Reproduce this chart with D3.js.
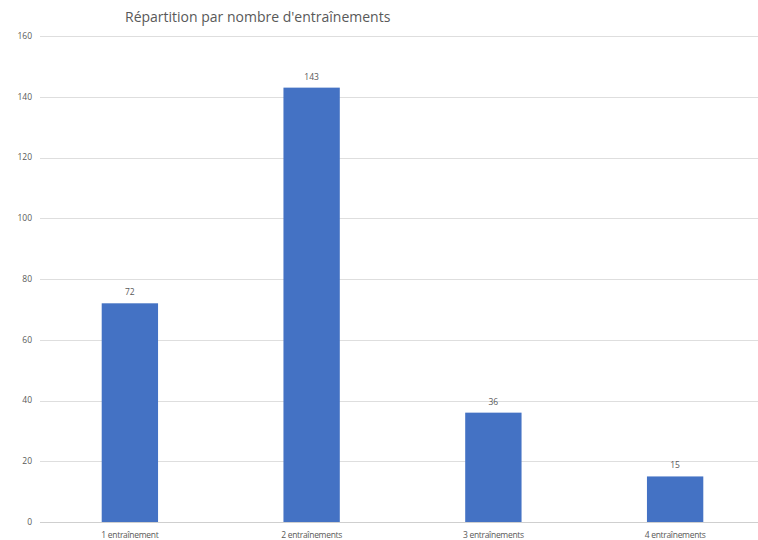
<!DOCTYPE html>
<html>
<head>
<meta charset="utf-8">
<script src="https://cdn.jsdelivr.net/npm/d3@7"></script>
<style>
  body { margin: 0; background: #fff; }
  text { font-family: "Open Sans", "Liberation Sans", sans-serif; fill: #595959; }
</style>
</head>
<body>
<svg width="758" height="540"></svg>
<script>
var categories = ["1 entraînement", "2 entraînements", "3 entraînements", "4 entraînements"];
var values = [72, 143, 36, 15];
var yTicks = [0, 20, 40, 60, 80, 100, 120, 140, 160];
var title = "Répartition par nombre d'entraînements";

var svg = d3.select("svg");

var xScale = d3.scaleBand()
  .domain(categories)
  .range([39, 766])
  .paddingInner(0.69)
  .paddingOuter(0.345);

var yScale = d3.scaleLinear().domain([0, 160]).range([522, 36]);

svg.append("text")
  .attr("x", 125)
  .attr("y", 22)
  .attr("font-size", "14px")
  .text(title);

// grid lines
svg.append("g")
  .selectAll("line")
  .data(yTicks)
  .enter()
  .append("line")
  .attr("x1", 40)
  .attr("x2", 758)
  .attr("y1", function (d) { return Math.round(yScale(d)) + 0.5; })
  .attr("y2", function (d) { return Math.round(yScale(d)) + 0.5; })
  .attr("stroke", function (d) { return d === 0 ? "#cfcfcf" : "#dedede"; })
  .attr("stroke-width", 1);

// y labels
svg.append("g")
  .selectAll("text")
  .data(yTicks)
  .enter()
  .append("text")
  .attr("x", 32)
  .attr("y", function (d) { return yScale(d); })
  .attr("dy", "0.35em")
  .attr("text-anchor", "end")
  .attr("font-size", "8.5px")
  .text(function (d) { return d; });

var data = categories.map(function (c, i) { return { cat: c, value: values[i] }; });

svg.selectAll(".bar")
  .data(data)
  .enter()
  .append("rect")
  .attr("class", "bar")
  .attr("x", function (d) { return xScale(d.cat); })
  .attr("y", function (d) { return yScale(d.value); })
  .attr("width", xScale.bandwidth())
  .attr("height", function (d) { return yScale(0) - yScale(d.value); })
  .attr("fill", "#4472c4");

svg.selectAll(".val")
  .data(data)
  .enter()
  .append("text")
  .attr("class", "val")
  .attr("x", function (d) { return xScale(d.cat) + xScale.bandwidth() / 2; })
  .attr("y", function (d) { return yScale(d.value) - 8; })
  .attr("text-anchor", "middle")
  .attr("font-size", "8.5px")
  .text(function (d) { return d.value; });

svg.selectAll(".xlab")
  .data(categories)
  .enter()
  .append("text")
  .attr("class", "xlab")
  .attr("x", function (d) { return xScale(d) + xScale.bandwidth() / 2; })
  .attr("y", 538)
  .attr("text-anchor", "middle")
  .attr("font-size", "8.5px")
  .attr("letter-spacing", "-0.3px")
  .text(function (d) { return d; });
</script>
</body>
</html>
